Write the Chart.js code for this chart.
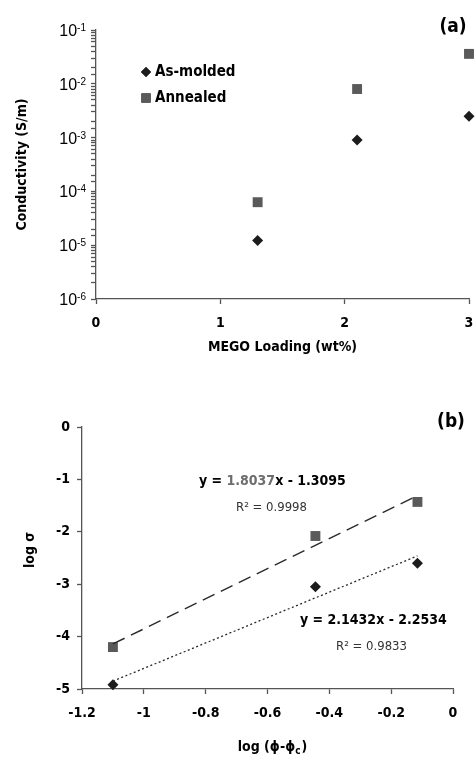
<!DOCTYPE html>
<html>
<head>
<meta charset="utf-8">
<script src="https://cdn.jsdelivr.net/npm/chart.js@4.4.0/dist/chart.umd.min.js"></script>
<style>
  body { margin: 0; background: #fff; }
  canvas { position: absolute; left: 0; }
  #chartA { top: 0; }
  #chartB { top: 380px; }
</style>
</head>
<body>
<canvas id="chartA" width="476" height="380"></canvas>
<canvas id="chartB" width="476" height="378"></canvas>
<script>
// conductivity vs MEGO loading
var loading = [1.3, 2.1, 3.0];
var condAsMolded = [1.22e-5, 9.0e-4, 2.5e-3];
var condAnnealed = [6.3e-5, 8.0e-3, 3.6e-2];
var decades = [1e-6, 1e-5, 1e-4, 1e-3, 1e-2, 1e-1];

// log-log percolation plot
var logPhi = [-1.1, -0.445, -0.115];
var logSigmaAsMolded = [-4.92, -3.05, -2.6];
var logSigmaAnnealed = [-4.2, -2.08, -1.43];

var eqAnnealed = ['y = ', '1.8037', 'x - 1.3095'];
var r2Annealed = 'R\u00b2 = 0.9998';
var eqAsMolded = 'y = 2.1432x - 2.2534';
var r2AsMolded = 'R\u00b2 = 0.9833';

var DARK = '#1c1c1c';
var GREY = '#5a5a5a';
var AXIS = '#555';
var FAM = "'DejaVu Sans Condensed', 'DejaVu Sans', sans-serif";
var boldFont = function (size) { return { family: FAM, weight: 'bold', size: size }; };

function pts(xs, ys) {
  return xs.map(function (x, i) { return { x: x, y: ys[i] }; });
}

// least squares trendline over the data range
function trend(xs, ys) {
  var n = xs.length, mx = 0, my = 0, sxy = 0, sxx = 0;
  xs.forEach(function (x, i) { mx += x / n; my += ys[i] / n; });
  xs.forEach(function (x, i) {
    sxy += (x - mx) * (ys[i] - my);
    sxx += (x - mx) * (x - mx);
  });
  var m = sxy / sxx, b = my - m * mx;
  var x0 = Math.min.apply(null, xs), x1 = Math.max.apply(null, xs);
  return [{ x: x0, y: m * x0 + b }, { x: x1, y: m * x1 + b }];
}

function axisOpts(extra) {
  var o = {
    grid: { drawOnChartArea: false, drawTicks: true, tickLength: 5, color: AXIS, tickWidth: 1.3 },
    border: { display: true, color: AXIS, width: 1.3 }
  };
  for (var k in extra) o[k] = extra[k];
  return o;
}

// fixed axis band; edge labels may hang over the plot edges
function fixHeight(h) {
  return function (s) {
    s.height = h;
    s.paddingLeft = 0;
    s.paddingRight = 0;
  };
}

var decorA = {
  id: 'decorA',
  afterDraw: function (chart) {
    var ctx = chart.ctx, y = chart.scales.y;
    ctx.save();
    ctx.fillStyle = '#000';
    // 10^n decade labels
    decades.forEach(function (v) {
      var py = y.getPixelForValue(v);
      var sup = String(Math.round(Math.log10(v)));
      ctx.font = "10px 'Liberation Sans', Arial, sans-serif";
      ctx.textAlign = 'right';
      ctx.textBaseline = 'alphabetic';
      var sw = ctx.measureText(sup).width;
      ctx.fillText(sup, 86, py + 1);
      ctx.font = "16px 'Liberation Sans', Arial, sans-serif";
      ctx.fillText('10', 86 - sw, py + 6);
    });
    // legend
    var ds = chart.data.datasets;
    var rows = [72, 98];
    ds.forEach(function (d, i) {
      Chart.helpers.drawPoint(ctx, { pointStyle: d.pointStyle, radius: d.legendRadius, borderWidth: 0 }, 146, rows[i]);
      ctx.fillStyle = d.backgroundColor;
      ctx.fill();
      ctx.fillStyle = '#000';
      ctx.font = 'bold 15px ' + FAM;
      ctx.textAlign = 'left';
      ctx.textBaseline = 'middle';
      ctx.fillText(d.label, 155, rows[i]);
    });
    ctx.font = 'bold 19px ' + FAM;
    ctx.textAlign = 'center';
    ctx.fillText('(a)', 453, 27);
    ctx.restore();
  }
};

new Chart(document.getElementById('chartA'), {
  type: 'scatter',
  data: {
    datasets: [
      {
        label: 'As-molded', data: pts(loading, condAsMolded),
        pointStyle: 'rectRot', pointRadius: 5.5, legendRadius: 5,
        backgroundColor: DARK, borderColor: DARK, borderWidth: 0, clip: false
      },
      {
        label: 'Annealed', data: pts(loading, condAnnealed),
        pointStyle: 'rect', pointRadius: 7, legendRadius: 6.5,
        backgroundColor: GREY, borderColor: GREY, borderWidth: 0, clip: false
      }
    ]
  },
  options: {
    responsive: false,
    animation: false,
    layout: { padding: { left: 0, top: 30, right: 6, bottom: 0 } },
    plugins: { legend: { display: false }, tooltip: { enabled: false } },
    scales: {
      x: axisOpts({
        type: 'linear', min: 0, max: 3,
        ticks: { stepSize: 1, color: '#000', font: boldFont(14), padding: 11 },
        title: { display: true, text: 'MEGO Loading (wt%)', color: '#000', font: boldFont(14), padding: { top: 0, bottom: 24 } },
        afterFit: fixHeight(81)
      }),
      y: axisOpts({
        type: 'logarithmic', min: 1e-6, max: 1e-1,
        ticks: { display: false, autoSkip: false },
        title: { display: true, text: 'Conductivity (S/m)', color: '#000', font: boldFont(14), padding: { top: 14, bottom: 0 } },
        afterFit: function (s) { s.width = 96; }
      })
    }
  },
  plugins: [decorA]
});

var decorB = {
  id: 'decorB',
  afterDraw: function (chart) {
    var ctx = chart.ctx;
    ctx.save();
    ctx.textBaseline = 'alphabetic';
    ctx.textAlign = 'left';
    // fit equations
    ctx.font = 'bold 14px ' + FAM;
    var x = 199;
    [['#000', eqAnnealed[0]], ['#6e6e6e', eqAnnealed[1]], ['#000', eqAnnealed[2]]].forEach(function (p) {
      ctx.fillStyle = p[0];
      ctx.fillText(p[1], x, 105);
      x += ctx.measureText(p[1]).width;
    });
    ctx.fillStyle = '#000';
    ctx.fillText(eqAsMolded, 300, 244);
    ctx.font = '13px ' + FAM;
    ctx.fillStyle = '#333';
    ctx.fillText(r2Annealed, 236, 131);
    ctx.fillText(r2AsMolded, 336, 270);
    // panel tag
    ctx.fillStyle = '#000';
    ctx.font = 'bold 19px ' + FAM;
    ctx.textAlign = 'center';
    ctx.textBaseline = 'middle';
    ctx.fillText('(b)', 451, 42);
    // x title with subscript c
    ctx.font = 'bold 14px ' + FAM;
    var a = 'log (\u03d5-\u03d5', c = 'c', e = ')';
    ctx.textAlign = 'left';
    var wa = ctx.measureText(a).width, we = ctx.measureText(e).width;
    ctx.font = 'bold 10px ' + FAM;
    var wc = ctx.measureText(c).width;
    var x0 = 272 - (wa + wc + we) / 2;
    ctx.font = 'bold 14px ' + FAM;
    ctx.fillText(a, x0, 367);
    ctx.fillText(e, x0 + wa + wc + 1, 367);
    ctx.font = 'bold 10px ' + FAM;
    ctx.fillText(c, x0 + wa, 371);
    // y title
    ctx.translate(30, 170);
    ctx.rotate(-Math.PI / 2);
    ctx.font = 'bold 14px ' + FAM;
    ctx.textAlign = 'center';
    ctx.fillText('log \u03c3', 0, 0);
    ctx.restore();
  }
};

new Chart(document.getElementById('chartB'), {
  type: 'scatter',
  data: {
    datasets: [
      {
        type: 'line', label: 'Annealed fit', data: trend(logPhi, logSigmaAnnealed),
        borderColor: '#2a2a2a', borderWidth: 1.4, borderDash: [13, 7], pointRadius: 0, fill: false
      },
      {
        type: 'line', label: 'As-molded fit', data: trend(logPhi, logSigmaAsMolded),
        borderColor: '#2a2a2a', borderWidth: 1.3, borderDash: [2, 2.5], pointRadius: 0, fill: false
      },
      {
        label: 'Annealed', data: pts(logPhi, logSigmaAnnealed),
        pointStyle: 'rect', pointRadius: 7,
        backgroundColor: GREY, borderColor: GREY, borderWidth: 0, clip: false
      },
      {
        label: 'As-molded', data: pts(logPhi, logSigmaAsMolded),
        pointStyle: 'rectRot', pointRadius: 5.5,
        backgroundColor: DARK, borderColor: DARK, borderWidth: 0, clip: false
      }
    ]
  },
  options: {
    responsive: false,
    animation: false,
    layout: { padding: { left: 0, top: 47, right: 23, bottom: 0 } },
    plugins: { legend: { display: false }, tooltip: { enabled: false } },
    scales: {
      x: axisOpts({
        type: 'linear', min: -1.2, max: 0,
        ticks: {
          stepSize: 0.2, color: '#000', font: boldFont(14), padding: 11,
          callback: function (v) { return String(Math.round(v * 10) / 10); }
        },
        afterFit: fixHeight(69)
      }),
      y: axisOpts({
        type: 'linear', min: -5, max: 0,
        ticks: { stepSize: 1, color: '#000', font: boldFont(14), padding: 7 },
        afterFit: function (s) { s.width = 82; }
      })
    }
  },
  plugins: [decorB]
});
</script>
</body>
</html>
